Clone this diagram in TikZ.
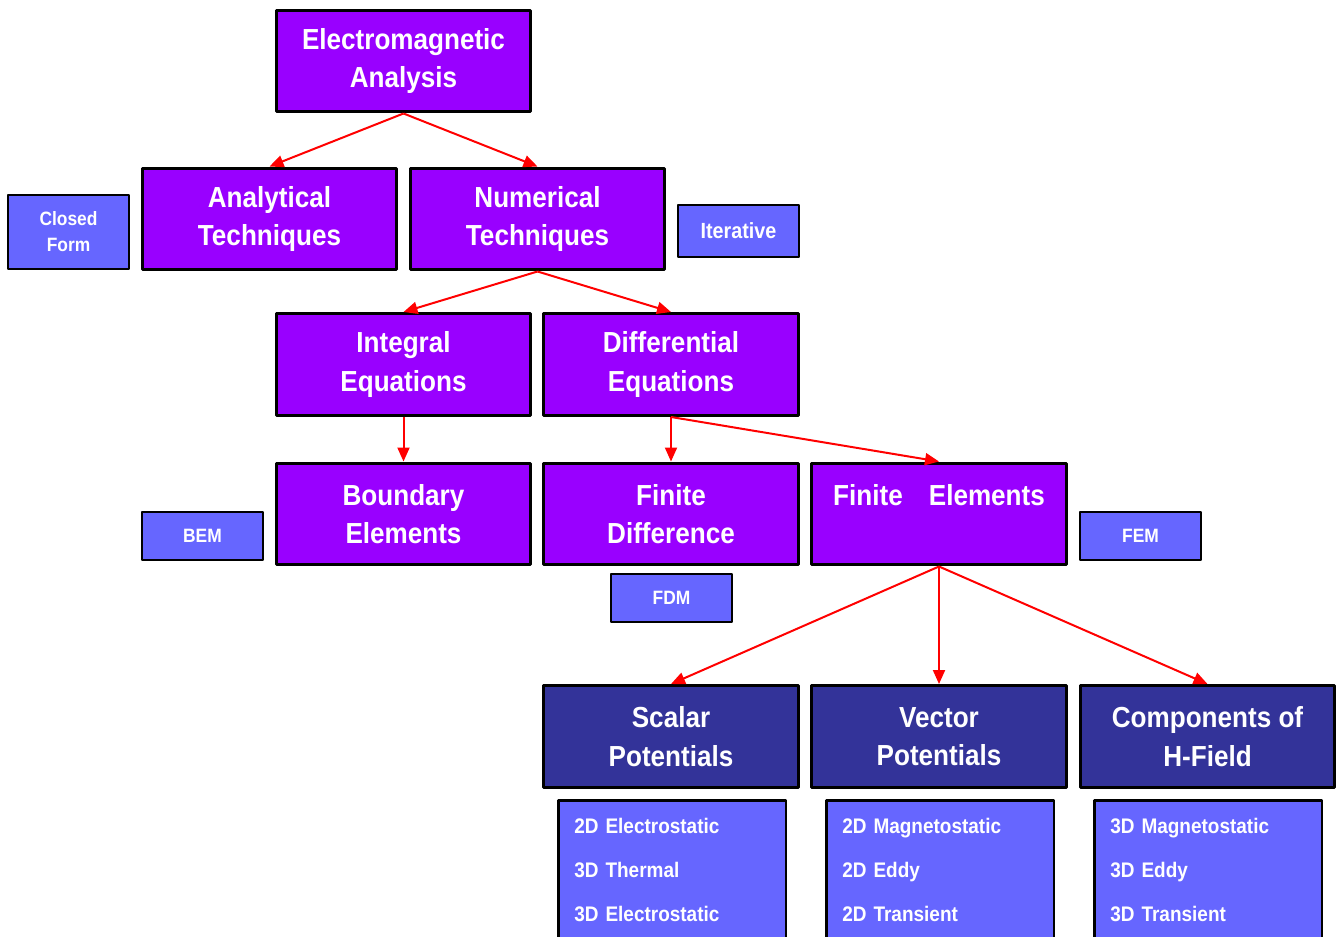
\documentclass[tikz,border=0pt]{standalone}
\usepackage{fontspec}
\setmainfont{Liberation Sans}[FakeStretch=0.9]
\usetikzlibrary{arrows.meta}
\definecolor{emviolet}{HTML}{9900FF}
\definecolor{emnavy}{HTML}{333399}
\definecolor{emblue}{HTML}{6666FF}
\begin{document}
\begin{tikzpicture}[x=0.02cm,y=-0.02cm,>={Triangle[length=0.28cm,width=0.24cm]},line join=round,
	bigbox/.style={draw=black,line width=0.06cm,fill=emviolet,text=white,align=center,inner sep=0pt,
		minimum width=5.1cm,minimum height=2.04cm,font=\fontsize{16.5}{22}\bfseries\selectfont},
	navybox/.style={bigbox,fill=emnavy},
	tagbox/.style={draw=black,line width=0.05cm,fill=emblue,text=white,align=center,inner sep=0pt,
		minimum width=2.42cm,minimum height=0.96cm,font=\fontsize{11}{14.8}\bfseries\selectfont},
	listbox/.style={draw=black,line width=0.05cm,fill=emblue,text=white,align=left,anchor=north west,
		text width=3.92cm,inner xsep=0.32cm,inner ysep=0.36cm,font=\fontsize{12}{25}\bfseries\selectfont}]
	\useasboundingbox (0,0) rectangle (1341,936);
	% main tree
	\node[bigbox] (ema) at (403.5,61) {Electromagnetic\\Analysis};
	\node[bigbox] (at) at (269.5,219) {Analytical\\Techniques};
	\node[bigbox] (nt) at (537.5,219) {Numerical\\Techniques};
	\node[bigbox] (ie) at (403.5,364.5) {Integral\\Equations};
	\node[bigbox] (de) at (671,364.5) {Differential\\Equations};
	\node[bigbox] (be) at (403.5,514) {Boundary\\Elements};
	\node[bigbox] (fd) at (671,514) {Finite\\Difference};
	\node[bigbox] (fe) at (939,514) {Finite\hspace{0.9em}Elements\\~};
	\node[navybox] (sp) at (671,736.5) {Scalar\\Potentials};
	\node[navybox] (vp) at (939,736.5) {Vector\\Potentials};
	\node[navybox] (ch) at (1207.5,736.5) {Components of\\H-Field};
	% side tags
	\node[tagbox,minimum height=1.48cm] (cf) at (68.5,232) {Closed\\Form};
	\node[tagbox,minimum height=1.04cm,font=\fontsize{12.5}{15}\bfseries\selectfont] (it) at (738.5,231) {Iterative};
	\foreach \n/\t/\x/\y in {bem/BEM/202.5/536,fdm/FDM/671.5/598,fem/FEM/1140.5/536}
		\node[tagbox] (\n) at (\x,\y) {\t};
	% lists
	\node[listbox] (spl) at (557,799) {2D Electrostatic\\3D Thermal\\3D Electrostatic};
	\node[listbox] (vpl) at (825,799) {2D Magnetostatic\\2D Eddy\\2D Transient};
	\node[listbox] (chl) at (1093,799) {3D Magnetostatic\\3D Eddy\\3D Transient};
	% arrows
	\foreach \a/\b in {ema/at,ema/nt,nt/ie,nt/de,ie/be,de/fd,de/fe,fe/sp,fe/vp,fe/ch}
		\draw[->,red,line width=0.04cm] (\a.south)--(\b.north);
\end{tikzpicture}
\end{document}
